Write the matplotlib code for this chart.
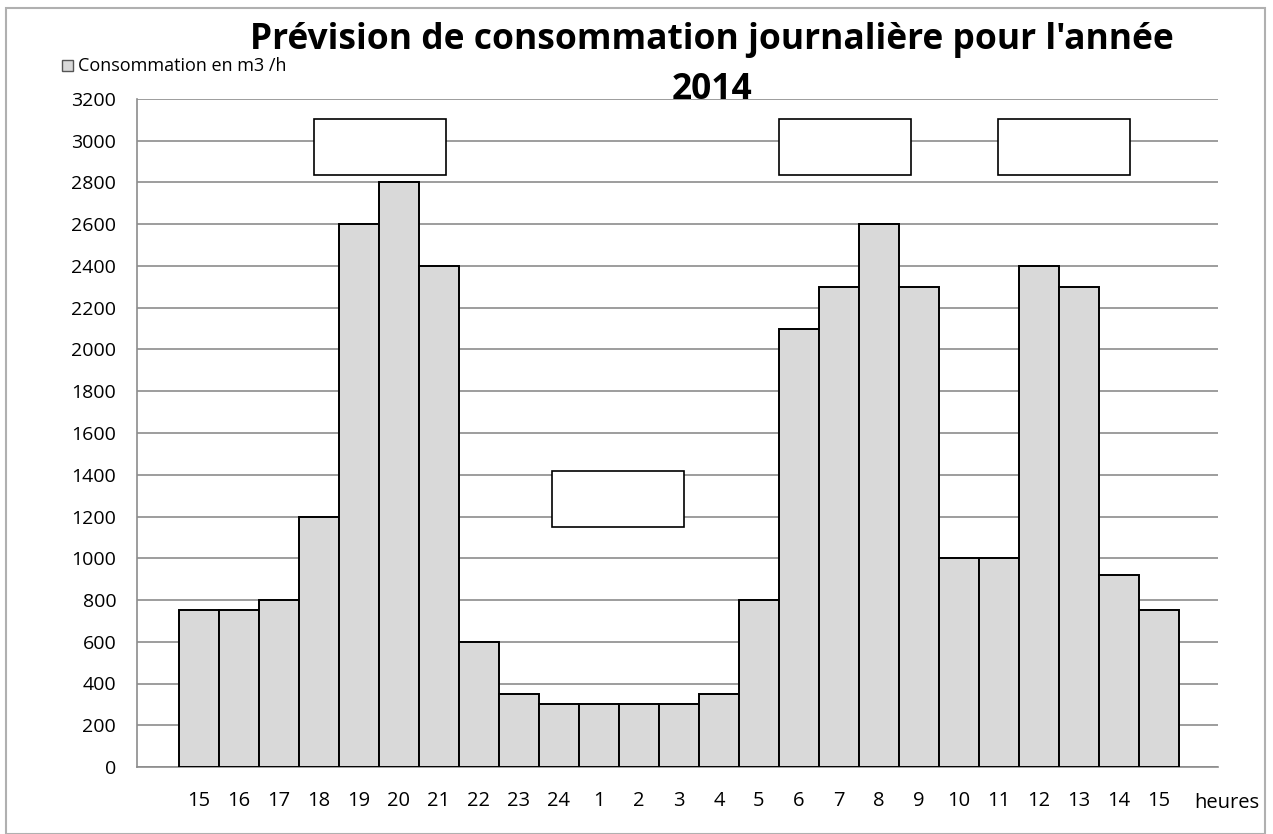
import matplotlib
matplotlib.use("Agg")
import matplotlib.pyplot as plt
from matplotlib.patches import Rectangle

heures = ["15", "16", "17", "18", "19", "20", "21", "22", "23", "24", "1", "2",
          "3", "4", "5", "6", "7", "8", "9", "10", "11", "12", "13", "14", "15"]
conso = [750, 750, 800, 1200, 2600, 2800, 2400, 600, 350, 300, 300, 300,
         300, 350, 800, 2100, 2300, 2600, 2300, 1000, 1000, 2400, 2300, 920, 750]
yticks = list(range(0, 3201, 200))

plt.rcParams['font.family'] = ['Open Sans', 'DejaVu Sans']

fig = plt.figure(figsize=(12.73, 8.34), dpi=100)
fig.patch.set_facecolor("white")
# cadre gris autour du graphique
fig.add_artist(Rectangle((6/1273, 0), 1259/1273, 826/834, transform=fig.transFigure,
                         fill=False, edgecolor="#b0b0b0", lw=1.5))

ax = fig.add_axes([137/1273, 67/834, 1081/1273, 668/834])
x = list(range(len(conso)))
ax.bar(x, conso, width=1.0, color="#d9d9d9", edgecolor="black", linewidth=1.4, zorder=3)

ax.set_ylim(0, 3200)
ax.set_xlim(-1.55, 25.475)
ax.set_yticks(yticks)
ax.set_yticklabels([str(v) for v in yticks], fontsize=14)
ax.set_xticks(x)
ax.set_xticklabels(heures, fontsize=14.5)
ax.tick_params(axis="both", length=0)
ax.tick_params(axis="x", pad=17)
ax.tick_params(axis="y", pad=15)
ax.yaxis.grid(True, color="#8c8c8c", lw=1.2, zorder=0)
for s in ["top", "right"]:
    ax.spines[s].set_visible(False)
ax.spines["left"].set_color("#8c8c8c")
ax.spines["bottom"].set_color("#8c8c8c")
ax.spines["left"].set_linewidth(1.2)
ax.spines["bottom"].set_linewidth(1.2)

ax.text(25.7, -0.054, "heures", transform=ax.get_xaxis_transform(), ha="center",
        va="center", fontsize=14.5)

# cases vides
for (l, t) in [(314, 119), (779, 119), (998, 119), (552, 471)]:
    fig.add_artist(Rectangle((l/1273, 1 - (t + 56)/834), 132/1273, 56/834,
                             transform=fig.transFigure, facecolor="white",
                             edgecolor="black", lw=1.2, zorder=5))

fig.text(712/1273, 1 - 40/834, "Prévision de consommation journalière pour l'année",
         ha="center", va="center", fontsize=25.5, fontweight="bold")
fig.text(712/1273, 1 - 90/834, "2014", ha="center", va="center",
         fontsize=25.5, fontweight="bold")

# légende
fig.add_artist(Rectangle((62/1273, 1 - 71/834), 11/1273, 11/834, transform=fig.transFigure,
                         facecolor="#d9d9d9", edgecolor="#555555", lw=1))
fig.text(78/1273, 1 - 66/834, "Consommation en m3 /h", ha="left", va="center", fontsize=13)

fig.savefig("out.png", dpi=100)
